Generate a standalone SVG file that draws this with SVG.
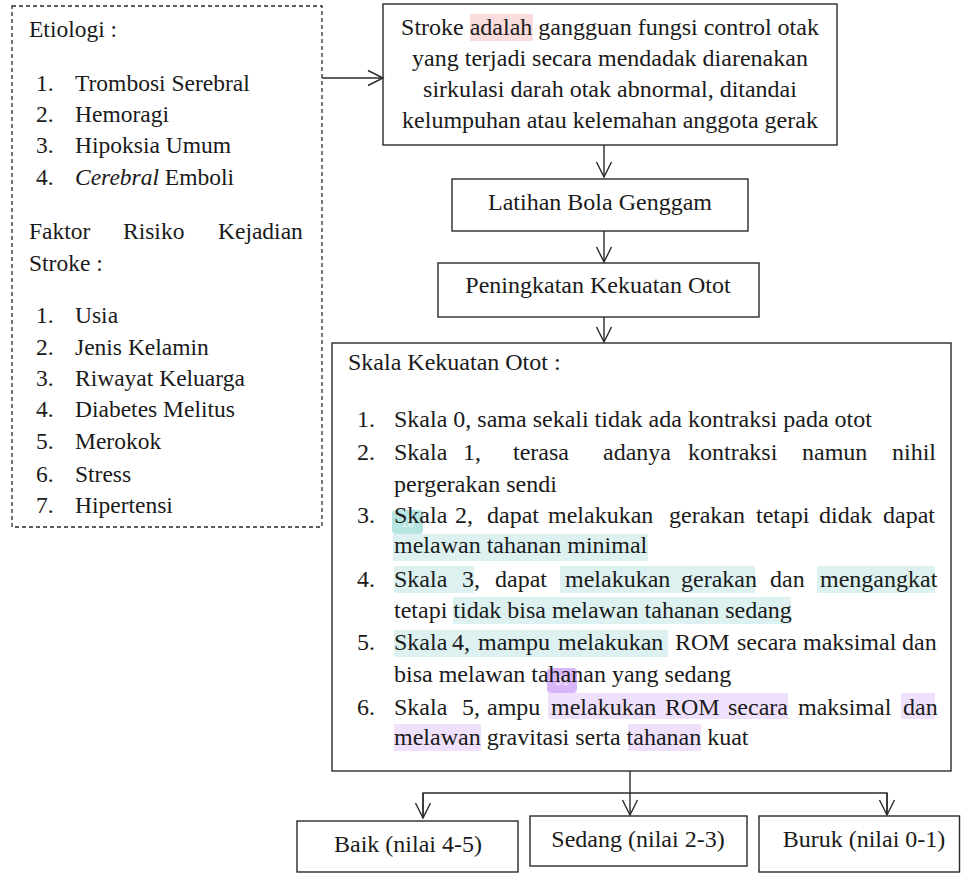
<svg xmlns="http://www.w3.org/2000/svg" width="961" height="873" viewBox="0 0 961 873">
<style>
.t{font-family:"Liberation Serif","Times New Roman",serif;font-size:24px;fill:#1a1a1a}
.l{font-size:23.5px}
.c{text-anchor:middle}
.box{fill:#fff;stroke:#2a2a2a;stroke-width:1.4}
.dash{fill:#fff;stroke:#2a2a2a;stroke-width:1.3;stroke-dasharray:4 3}
.conn{fill:none;stroke:#2a2a2a;stroke-width:1.4}
.hp{fill:#fadcdc}
.ht{fill:#ddf2f0}
.hv{fill:#efe1fb}
.badge{font-family:"Liberation Sans",Arial,sans-serif;font-size:12px;fill:#fff;fill-opacity:.75;text-anchor:middle}
</style>
<defs>
<marker id="ah" markerUnits="userSpaceOnUse" markerWidth="20" markerHeight="20" viewBox="-16 -10 20 20" refX="0" refY="0" orient="auto" overflow="visible">
<path d="M-15,-7.5 L0,0 L-15,7.5" fill="none" stroke="#2a2a2a" stroke-width="1.4"/>
</marker>
</defs>
<rect width="961" height="873" fill="#fff"/>

<g id="etiologi">
<rect class="dash" x="12" y="6" width="310" height="521"/>
<text class="t l" x="29" y="37">Etiologi :</text>
<text class="t l" x="36" y="91">1.</text><text class="t l" x="75" y="91">Trombosi Serebral</text>
<text class="t l" x="36" y="122">2.</text><text class="t l" x="75" y="122">Hemoragi</text>
<text class="t l" x="36" y="153">3.</text><text class="t l" x="75" y="153">Hipoksia Umum</text>
<text class="t l" x="36" y="185">4.</text><text class="t l" x="75" y="185"><tspan font-style="italic">Cerebral</tspan> Emboli</text>
<text class="t l" y="239"><tspan x="29">Faktor</tspan><tspan x="123">Risiko</tspan><tspan x="218">Kejadian</tspan></text>
<text class="t l" x="29" y="271">Stroke :</text>
<text class="t l" x="36" y="323">1.</text><text class="t l" x="75" y="323">Usia</text>
<text class="t l" x="36" y="355">2.</text><text class="t l" x="75" y="355">Jenis Kelamin</text>
<text class="t l" x="36" y="386">3.</text><text class="t l" x="75" y="386">Riwayat Keluarga</text>
<text class="t l" x="36" y="417">4.</text><text class="t l" x="75" y="417">Diabetes Melitus</text>
<text class="t l" x="36" y="449">5.</text><text class="t l" x="75" y="449">Merokok</text>
<text class="t l" x="36" y="482">6.</text><text class="t l" x="75" y="482">Stress</text>
<text class="t l" x="36" y="513">7.</text><text class="t l" x="75" y="513">Hipertensi</text>
</g>

<g id="stroke">
<rect class="box" x="383" y="4" width="454" height="141"/>
<rect class="hp" x="470" y="14" width="63" height="27"/>
<text class="t c" x="610" y="35">Stroke adalah gangguan fungsi control otak</text>
<text class="t c" x="610" y="66">yang terjadi secara mendadak diarenakan</text>
<text class="t c" x="610" y="97">sirkulasi darah otak abnormal, ditandai</text>
<text class="t c" x="610" y="128">kelumpuhan atau kelemahan anggota gerak</text>
</g>

<g id="latihan">
<rect class="box" x="452" y="179" width="296" height="52"/>
<text class="t c" x="600" y="210">Latihan Bola Genggam</text>
</g>

<g id="peningkatan">
<rect class="box" x="438" y="263" width="321" height="54"/>
<text class="t c" x="598" y="293">Peningkatan Kekuatan Otot</text>
</g>

<g id="skala">
<rect class="box" x="332" y="343" width="619" height="428"/>
<rect class="ht" x="393" y="534" width="255" height="27"/>
<rect x="392" y="510" width="31" height="24" rx="4" fill="#b5e4e1"/>
<text class="badge" x="407.5" y="527">16</text>
<rect class="ht" x="394" y="566" width="80" height="27"/>
<rect class="ht" x="560" y="566" width="195" height="27"/>
<rect class="ht" x="817" y="566" width="118" height="27"/>
<rect class="ht" x="453" y="597" width="338" height="27"/>
<rect class="ht" x="394" y="630" width="274" height="27"/>
<rect class="hv" x="548" y="693" width="240" height="26"/>
<rect class="hv" x="901" y="693" width="34" height="26"/>
<rect class="hv" x="394" y="724" width="87" height="27"/>
<rect class="hv" x="628" y="724" width="73" height="27"/>
<rect x="547" y="668" width="30" height="25" rx="4" fill="#d9b6f7"/>
<text class="badge" x="562" y="685">51</text>

<text class="t" x="348" y="370">Skala Kekuatan Otot :</text>
<text class="t" x="357" y="427">1.</text>
<text class="t" x="394" y="427">Skala 0, sama sekali tidak ada kontraksi pada otot</text>
<text class="t" x="357" y="460">2.</text>
<text class="t" y="460"><tspan x="394">Skala</tspan><tspan x="463">1,</tspan><tspan x="513">terasa</tspan><tspan x="603">adanya</tspan><tspan x="688">kontraksi</tspan><tspan x="802">namun</tspan><tspan x="892">nihil</tspan></text>
<text class="t" x="394" y="492">pergerakan sendi</text>
<text class="t" x="357" y="523">3.</text>
<text class="t" y="523"><tspan x="394">Skala</tspan><tspan x="455">2,</tspan><tspan x="487">dapat</tspan><tspan x="548">melakukan</tspan><tspan x="669">gerakan</tspan><tspan x="756">tetapi</tspan><tspan x="819">didak</tspan><tspan x="883">dapat</tspan></text>
<text class="t" x="394" y="553">melawan tahanan minimal</text>
<text class="t" x="357" y="587">4.</text>
<text class="t" y="587"><tspan x="394">Skala</tspan><tspan x="462">3,</tspan><tspan x="495">dapat</tspan><tspan x="565">melakukan</tspan><tspan x="681">gerakan</tspan><tspan x="770">dan</tspan><tspan x="820">mengangkat</tspan></text>
<text class="t" x="394" y="618">tetapi tidak bisa melawan tahanan sedang</text>
<text class="t" x="357" y="650">5.</text>
<text class="t" y="650"><tspan x="394">Skala</tspan><tspan x="452">4,</tspan><tspan x="478">mampu</tspan><tspan x="558">melakukan</tspan><tspan x="675">ROM</tspan><tspan x="737">secara</tspan><tspan x="803">maksimal</tspan><tspan x="902">dan</tspan></text>
<text class="t" x="394" y="682">bisa melawan tahanan yang sedang</text>
<text class="t" x="357" y="715">6.</text>
<text class="t" y="715"><tspan x="394">Skala</tspan><tspan x="462">5,</tspan><tspan x="487">ampu</tspan><tspan x="551">melakukan</tspan><tspan x="665">ROM</tspan><tspan x="728">secara</tspan><tspan x="798">maksimal</tspan><tspan x="903">dan</tspan></text>
<text class="t" x="394" y="745">melawan gravitasi serta tahanan kuat</text>
</g>

<g id="baik">
<rect class="box" x="297" y="821" width="221" height="51"/>
<text class="t c" x="408" y="852">Baik (nilai 4-5)</text>
</g>
<g id="sedang">
<rect class="box" x="530" y="816" width="217" height="50"/>
<text class="t c" x="638" y="847">Sedang (nilai 2-3)</text>
</g>
<g id="buruk">
<rect class="box" x="759" y="816" width="200.5" height="56"/>
<text class="t c" x="864" y="847">Buruk (nilai 0-1)</text>
</g>

<g id="connectors">
<line class="conn" x1="322" y1="78" x2="383" y2="78" marker-end="url(#ah)"/>
<line class="conn" x1="604" y1="145" x2="604" y2="177" marker-end="url(#ah)"/>
<line class="conn" x1="604" y1="231" x2="604" y2="262" marker-end="url(#ah)"/>
<line class="conn" x1="604" y1="317" x2="604" y2="342" marker-end="url(#ah)"/>
<polyline class="conn" points="630,771 630,793"/>
<polyline class="conn" points="423,818 423,793 887,793 887,815"/>
<line class="conn" x1="423" y1="793" x2="423" y2="818" marker-end="url(#ah)"/>
<line class="conn" x1="630" y1="793" x2="630" y2="815" marker-end="url(#ah)"/>
<line class="conn" x1="887" y1="793" x2="887" y2="815" marker-end="url(#ah)"/>
</g>
</svg>
